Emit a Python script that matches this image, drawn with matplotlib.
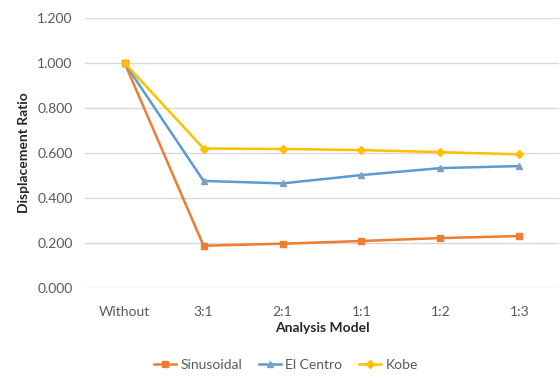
import matplotlib.pyplot as plt

# Analysis models on the x axis
models = ["Without", "3:1", "2:1", "1:1", "1:2", "1:3"]

# Displacement ratio per excitation
sinusoidal = [1.000, 0.188, 0.197, 0.209, 0.222, 0.231]
el_centro = [1.000, 0.476, 0.465, 0.502, 0.533, 0.542]
kobe = [1.000, 0.620, 0.618, 0.613, 0.604, 0.594]

plt.rcParams['font.family'] = ['Lato', 'DejaVu Sans']

fig = plt.figure(figsize=(5.6, 3.79), dpi=100)
ax = fig.add_axes([0.152, 0.240, 0.846, 0.7125])

x = range(len(models))
ax.plot(x, sinusoidal, color="#ED7D31", lw=1.8, marker="s", ms=5, label="Sinusoidal", zorder=3)
ax.plot(x, el_centro, color="#5B9BD5", lw=1.8, marker="^", ms=5, mfc="#7F9FBF", mec="#7F9FBF", label="El Centro", zorder=3)
ax.plot(x, kobe, color="#FFC000", lw=1.8, marker="D", ms=4, label="Kobe", zorder=3)

ax.set_xlim(-0.5, len(models) - 0.5)
ax.set_ylim(0, 1.2)
ax.set_xticks(list(x))
ax.set_xticklabels(models)
ax.set_yticks([0, 0.2, 0.4, 0.6, 0.8, 1.0, 1.2])
ax.set_yticklabels(["%.3f" % v for v in [0, 0.2, 0.4, 0.6, 0.8, 1.0, 1.2]])
ax.tick_params(axis="both", length=0, labelsize=10, colors="#595959")
ax.tick_params(axis="x", pad=13)
ax.tick_params(axis="y", pad=9)
ax.grid(axis="y", color="#D9D9D9", lw=1)
ax.set_axisbelow(True)
for s in ax.spines.values():
    s.set_visible(False)

ax.set_xlabel("Analysis Model", fontsize=10, fontweight="bold", color="#262626", labelpad=3)
ax.set_ylabel("Displacement Ratio", fontsize=10, fontweight="bold", color="#262626", labelpad=5)

ax.legend(loc="upper center", bbox_to_anchor=(0.424, -0.215), ncol=3, frameon=False,
          fontsize=10, labelcolor="#595959", handlelength=1.6, handletextpad=0.3,
          columnspacing=1.2)

fig.savefig("out.png", dpi=100)
